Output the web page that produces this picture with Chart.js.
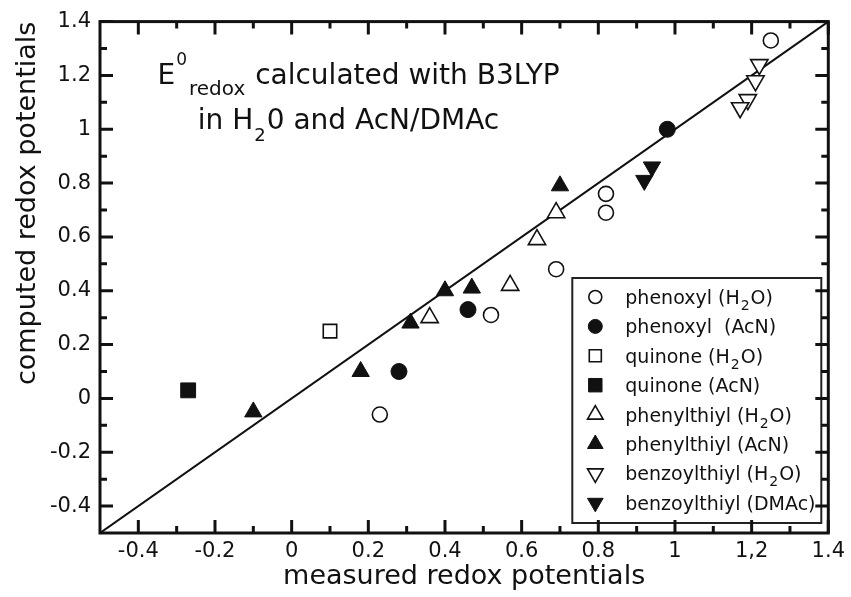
<!DOCTYPE html>
<html>
<head>
<meta charset="utf-8">
<script src="https://cdn.jsdelivr.net/npm/chart.js@4"></script>
<style>
  html, body { margin: 0; padding: 0; background: #fff; }
</style>
</head>
<body>
<canvas id="chart" width="851" height="597"></canvas>
<script>
var FONT = "'DejaVu Sans', sans-serif";

// measured (x) vs computed (y) redox potentials
var phenoxylH2OX = [1.25, 0.82, 0.82, 0.69, 0.52, 0.23];
var phenoxylH2OY = [1.33, 0.76, 0.69, 0.48, 0.31, -0.06];
var phenoxylAcNX = [0.98, 0.46, 0.28];
var phenoxylAcNY = [1.00, 0.33, 0.10];
var quinoneH2OX = [0.10];
var quinoneH2OY = [0.25];
var quinoneAcNX = [-0.27];
var quinoneAcNY = [0.03];
var phenylthiylH2OX = [0.69, 0.64, 0.57, 0.36];
var phenylthiylH2OY = [0.69, 0.59, 0.42, 0.30];
var phenylthiylAcNX = [0.70, 0.47, 0.40, 0.31, 0.18, -0.10];
var phenylthiylAcNY = [0.79, 0.41, 0.40, 0.28, 0.10, -0.05];
var benzoylthiylH2OX = [1.22, 1.21, 1.19, 1.17];
var benzoylthiylH2OY = [1.24, 1.18, 1.11, 1.08];
var benzoylthiylDMAcX = [0.94, 0.92];
var benzoylthiylDMAcY = [0.86, 0.81];

// y = x reference line
var diagonalX = [-0.5, 1.4];
var diagonalY = [-0.5, 1.4];

var xTickValues = [-0.4, -0.2, 0, 0.2, 0.4, 0.6, 0.8, 1, 1.2, 1.4];
var xTickLabels = ['-0.4', '-0.2', '0', '0.2', '0.4', '0.6', '0.8', '1', '1,2', '1.4'];
var yTickValues = [-0.4, -0.2, 0, 0.2, 0.4, 0.6, 0.8, 1, 1.2, 1.4];
var yTickLabels = ['-0.4', '-0.2', '0', '0.2', '0.4', '0.6', '0.8', '1', '1.2', '1.4'];
var minorTickValues = [-0.3, -0.1, 0.1, 0.3, 0.5, 0.7, 0.9, 1.1, 1.3];

var seriesLabels = [
    'phenoxyl (H_{2}O)',
    'phenoxyl  (AcN)',
    'quinone (H_{2}O)',
    'quinone (AcN)',
    'phenylthiyl (H_{2}O)',
    'phenylthiyl (AcN)',
    'benzoylthiyl (H_{2}O)',
    'benzoylthiyl (DMAc)'
];
var noteLines = [
    'E^{0}_{redox} calculated with B3LYP',
    'in H_{2}0 and AcN/DMAc'
];

var toPoints = function (xs, ys) {
    return xs.map(function (x, i) { return {x: x, y: ys[i]}; });
};

var marker = function (label, xs, ys, style, filled, radius, rotation) {
    return {
        label: label,
        data: toPoints(xs, ys),
        pointStyle: style,
        pointRotation: rotation || 0,
        pointRadius: radius,
        pointHoverRadius: radius,
        backgroundColor: filled ? '#111' : '#fff',
        borderColor: '#111',
        pointBorderWidth: filled ? 1 : 1.6,
        showLine: false
    };
};

// same shapes as chart.js point styles, for the legend box
var legendMarker = function (ctx, style, rotation, r, x, y) {
    ctx.beginPath();
    if (style === 'circle') {
        ctx.arc(x, y, r, 0, Math.PI * 2);
    } else if (style === 'rect') {
        let s = Math.SQRT1_2 * r;
        ctx.rect(x - s, y - s, 2 * s, 2 * s);
    } else {
        let rad = rotation * Math.PI / 180;
        for (let k = 0; k < 3; k++) {
            let px = x + Math.sin(rad) * r, py = y - Math.cos(rad) * r;
            if (k === 0) ctx.moveTo(px, py); else ctx.lineTo(px, py);
            rad += Math.PI * 2 / 3;
        }
        ctx.closePath();
    }
    ctx.fill();
    ctx.stroke();
};

// draws text with _{sub} and ^{sup} parts
var drawRich = function (ctx, text, x, y, size, subSize, subDrop, supRise) {
    var parts = text.split(/([_^]\{[^}]*\})/);
    ctx.textBaseline = 'alphabetic';
    ctx.textAlign = 'left';
    for (let i = 0; i < parts.length; i++) {
        let p = parts[i];
        if (!p) continue;
        if (p[0] === '_' || p[0] === '^') {
            let t = p.slice(2, -1);
            let s = p[0] === '_' ? subSize : Math.round(subSize * 0.85);
            ctx.font = s + 'px ' + FONT;
            ctx.fillText(t, x + 1, p[0] === '_' ? y + subDrop : y - supRise);
            x += ctx.measureText(t).width + 2;
        } else {
            ctx.font = size + 'px ' + FONT;
            ctx.fillText(p, x, y);
            x += ctx.measureText(p).width;
        }
    }
};

var framePlugin = {
    id: 'frame',
    afterDatasetsDraw: function (chart) {
        let ctx = chart.ctx;
        let a = chart.chartArea;
        let xs = chart.scales.x, ys = chart.scales.y;
        ctx.save();

        // legend box
        let w = 249, h = 245;
        let lx = a.right - 7 - w, ly = a.bottom - 10 - h;
        ctx.fillStyle = '#fff';
        ctx.fillRect(lx, ly, w, h);
        ctx.strokeStyle = '#222';
        ctx.lineWidth = 2;
        ctx.strokeRect(lx, ly, w, h);
        let ds = chart.data.datasets.filter(function (d) { return d.pointStyle; });
        for (let i = 0; i < ds.length; i++) {
            let cy = ly + 19 + i * 29.4;
            let d = ds[i];
            ctx.fillStyle = d.backgroundColor;
            ctx.strokeStyle = d.borderColor;
            ctx.lineWidth = d.pointBorderWidth;
            legendMarker(ctx, d.pointStyle, d.pointRotation, d.pointRadius - 1, lx + 23, cy);
            ctx.fillStyle = '#111';
            drawRich(ctx, d.label, lx + 53, cy + 7, 19, 14, 6, 8);
        }

        // note text in the upper left
        ctx.fillStyle = '#111';
        drawRich(ctx, noteLines[0], xs.getPixelForValue(-0.35), ys.getPixelForValue(1.17), 28, 20, 11, 19);
        drawRich(ctx, noteLines[1], xs.getPixelForValue(-0.245), ys.getPixelForValue(1.0), 28, 18, 12, 19);

        // inward ticks on all four sides
        ctx.strokeStyle = '#111';
        ctx.lineWidth = 3;
        ctx.beginPath();
        let tick = function (v, len) {
            let px = xs.getPixelForValue(v), py = ys.getPixelForValue(v);
            ctx.moveTo(px, a.bottom); ctx.lineTo(px, a.bottom - len);
            ctx.moveTo(px, a.top); ctx.lineTo(px, a.top + len);
            ctx.moveTo(a.left, py); ctx.lineTo(a.left + len, py);
            ctx.moveTo(a.right, py); ctx.lineTo(a.right - len, py);
        };
        xTickValues.forEach(function (v) { tick(v, 13); });
        minorTickValues.forEach(function (v) { tick(v, 7); });
        ctx.stroke();
        ctx.strokeRect(a.left, a.top, a.right - a.left, a.bottom - a.top);
        ctx.restore();
    }
};

new Chart(document.getElementById('chart'), {
    type: 'scatter',
    data: {
        datasets: [
            marker(seriesLabels[0], phenoxylH2OX, phenoxylH2OY, 'circle', false, 7.5),
            marker(seriesLabels[1], phenoxylAcNX, phenoxylAcNY, 'circle', true, 8),
            marker(seriesLabels[2], quinoneH2OX, quinoneH2OY, 'rect', false, 9.5),
            marker(seriesLabels[3], quinoneAcNX, quinoneAcNY, 'rect', true, 10.5),
            marker(seriesLabels[4], phenylthiylH2OX, phenylthiylH2OY, 'triangle', false, 10),
            marker(seriesLabels[5], phenylthiylAcNX, phenylthiylAcNY, 'triangle', true, 10),
            marker(seriesLabels[6], benzoylthiylH2OX, benzoylthiylH2OY, 'triangle', false, 10, 180),
            marker(seriesLabels[7], benzoylthiylDMAcX, benzoylthiylDMAcY, 'triangle', true, 10, 180),
            {
                label: 'y = x',
                data: toPoints(diagonalX, diagonalY),
                showLine: true,
                borderColor: '#111',
                borderWidth: 2,
                pointRadius: 0,
                fill: false
            }
        ]
    },
    options: {
        responsive: false,
        animation: false,
        layout: { padding: { top: 20, right: 21, left: 0, bottom: 0 } },
        plugins: { legend: { display: false }, tooltip: { enabled: false } },
        scales: {
            x: {
                type: 'linear',
                min: -0.5,
                max: 1.4,
                afterBuildTicks: function (s) { s.ticks = xTickValues.map(function (v) { return {value: v}; }); },
                afterFit: function (s) { s.height = 64; },
                grid: { display: false, drawTicks: false },
                border: { display: false },
                ticks: {
                    color: '#111',
                    font: { family: FONT, size: 21 },
                    padding: 6,
                    maxRotation: 0,
                    autoSkip: false,
                    callback: function (v) { return xTickLabels[xTickValues.indexOf(v)]; }
                },
                title: {
                    display: true,
                    text: 'measured redox potentials',
                    color: '#111',
                    font: { family: FONT, size: 27 },
                    padding: { top: 0, bottom: 4 }
                }
            },
            y: {
                type: 'linear',
                min: -0.5,
                max: 1.4,
                afterBuildTicks: function (s) { s.ticks = yTickValues.map(function (v) { return {value: v}; }); },
                afterFit: function (s) { s.width = 100; },
                grid: { display: false, drawTicks: false },
                border: { display: false },
                ticks: {
                    color: '#111',
                    font: { family: FONT, size: 21 },
                    padding: 9,
                    autoSkip: false,
                    callback: function (v) { return yTickLabels[yTickValues.indexOf(v)]; }
                },
                title: {
                    display: true,
                    text: 'computed redox potentials',
                    align: 'end',
                    color: '#111',
                    font: { family: FONT, size: 27 },
                    padding: { top: 12, bottom: 0 }
                }
            }
        }
    },
    plugins: [framePlugin]
});
</script>
</body>
</html>
